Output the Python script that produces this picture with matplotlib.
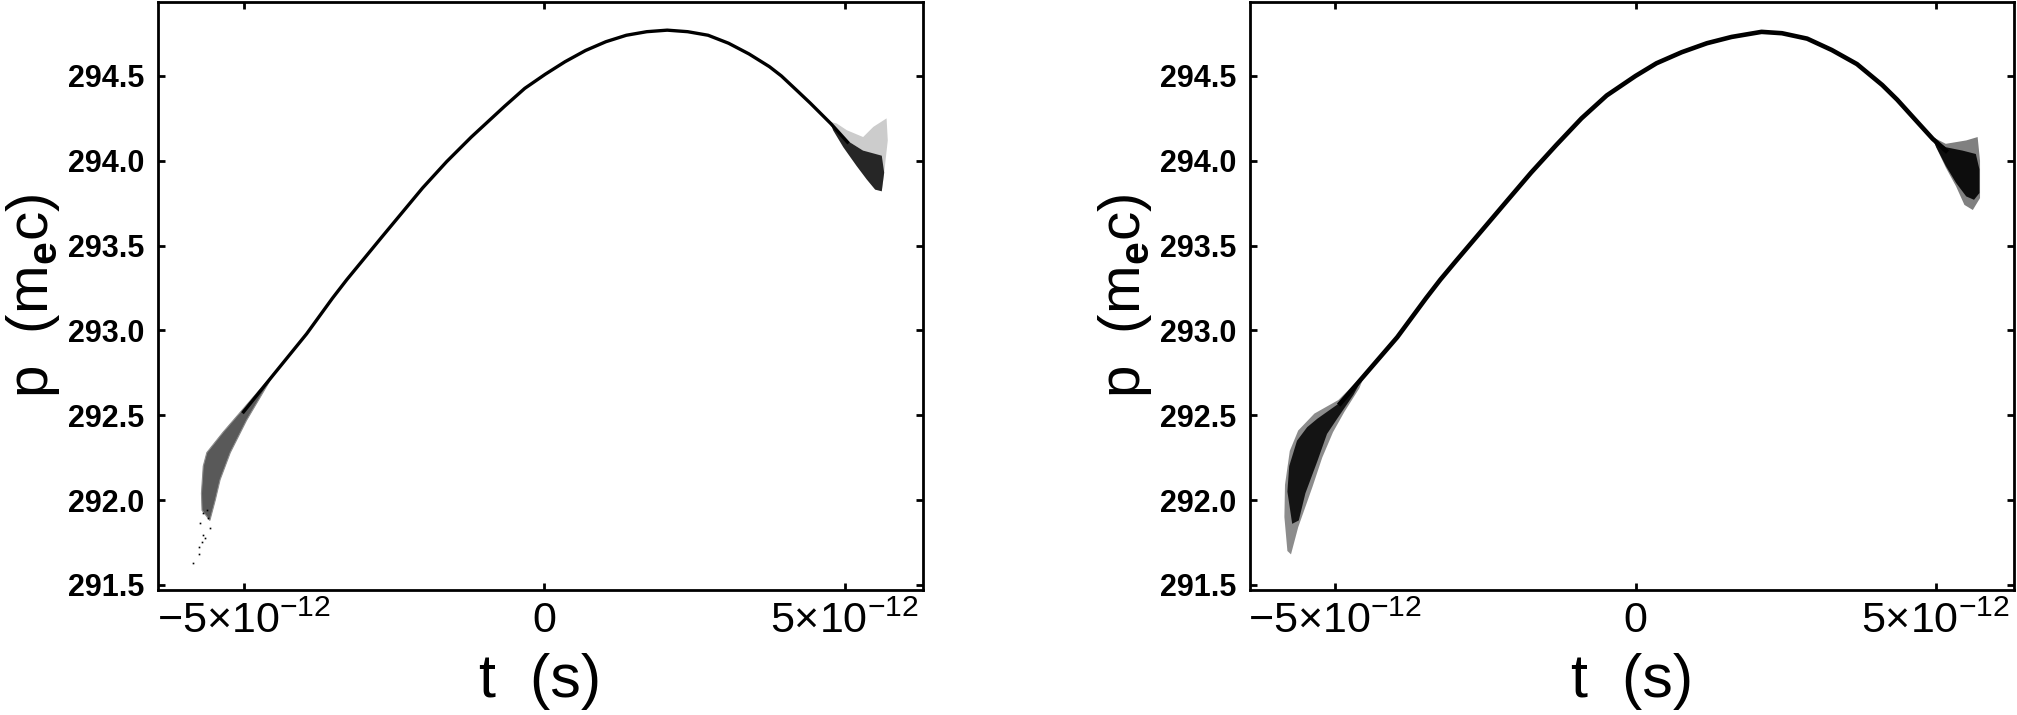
import matplotlib
matplotlib.use("Agg")
import matplotlib.pyplot as plt

plt.rcParams['font.family'] = ['Liberation Sans', 'DejaVu Sans']
plt.rcParams['mathtext.fontset'] = 'custom'
plt.rcParams['mathtext.rm'] = 'Liberation Sans'
plt.rcParams['mathtext.it'] = 'Liberation Sans:italic'
plt.rcParams['mathtext.bf'] = 'Liberation Sans:bold'

PS = 1e-12  # t values below are in ps

# ---- left panel ----
left_line_t = [-5.00, -4.50, -3.95, -3.52, -3.28, -2.70, -2.02, -1.62, -1.21, -0.66, -0.32, 0.02,
               0.35, 0.69, 1.03, 1.37, 1.71, 2.05, 2.39, 2.73, 3.07, 3.41, 3.75, 3.95, 4.23,
               4.43, 4.77, 5.05]
left_line_p = [292.52, 292.74, 292.98, 293.19, 293.30, 293.55, 293.84, 293.995, 294.14, 294.32, 294.427, 294.51,
               294.584, 294.65, 294.702, 294.74, 294.761, 294.77, 294.761, 294.74, 294.693, 294.63, 294.555, 294.50, 294.407,
               294.34, 294.22, 294.11]

# bunch head (low t), outline of the particle cloud
left_head_t = [-4.50, -5.06, -5.34, -5.61, -5.67, -5.70, -5.69, -5.56, -5.47, -5.39, -5.22, -4.95, -4.60]
left_head_p = [292.745, 292.515, 292.40, 292.28, 292.20, 292.04, 291.94, 291.88, 292.00, 292.12, 292.28, 292.47, 292.68]
# loose particles under the head
left_dots_t = [-5.835, -5.735, -5.735, -5.696, -5.669, -5.641, -5.557, -5.585, -5.724, -5.68, -5.613]
left_dots_p = [291.628, 291.683, 291.726, 291.755, 291.795, 291.775, 291.834, 291.893, 291.864, 291.923, 291.942]

# bunch tail (high t)
left_tail_core_t = [4.76, 5.04, 5.31, 5.62, 5.66, 5.62, 5.51, 5.37, 5.20, 4.98, 4.81]
left_tail_core_p = [294.23, 294.12, 294.06, 294.03, 293.93, 293.82, 293.83, 293.89, 293.97, 294.08, 294.18]
left_tail_halo_t = [4.76, 4.87, 5.04, 5.31, 5.48, 5.70, 5.72, 5.66, 5.62, 5.31, 5.04]
left_tail_halo_p = [294.23, 294.22, 294.18, 294.14, 294.20, 294.25, 294.12, 293.93, 293.82, 294.06, 294.12]

# ---- right panel ----
right_line_t = [-4.92, -4.53, -3.97, -3.49, -3.25, -2.99, -2.57, -2.15, -1.74, -1.32, -0.90, -0.48,
                0.00, 0.35, 0.77, 1.19, 1.60, 2.10, 2.44, 2.86, 3.27, 3.69, 4.11, 4.36, 4.69, 4.95, 5.17]
right_line_p = [292.57, 292.73, 292.96, 293.19, 293.30, 293.41, 293.585, 293.76, 293.93, 294.093, 294.25, 294.385,
                294.50, 294.575, 294.64, 294.693, 294.73, 294.76, 294.752, 294.72, 294.653, 294.57, 294.447, 294.36, 294.231, 294.13, 294.06]

right_head_core_t = [-4.53, -4.92, -5.30, -5.47, -5.64, -5.77, -5.80, -5.72, -5.61, -5.50, -5.30, -5.14, -4.97, -4.70]
right_head_core_p = [292.73, 292.575, 292.48, 292.43, 292.35, 292.20, 292.05, 291.86, 291.88, 292.04, 292.23, 292.39, 292.48, 292.62]
right_head_halo_t = [-4.50, -4.95, -5.35, -5.62, -5.76, -5.84, -5.85, -5.80, -5.74, -5.62, -5.50, -5.38, -5.22, -5.04, -4.85, -4.60]
right_head_halo_p = [292.75, 292.59, 292.51, 292.41, 292.29, 292.09, 291.90, 291.70, 291.68, 291.84, 291.96, 292.08, 292.25, 292.40, 292.52, 292.66]

right_tail_core_t = [4.95, 5.17, 5.45, 5.67, 5.73, 5.73, 5.64, 5.51, 5.34, 5.17, 5.01]
right_tail_core_p = [294.13, 294.08, 294.06, 294.04, 293.95, 293.81, 293.77, 293.79, 293.87, 293.97, 294.08]
right_tail_halo_t = [4.95, 5.17, 5.51, 5.70, 5.74, 5.74, 5.62, 5.48, 5.34, 5.17, 5.01]
right_tail_halo_p = [294.14, 294.10, 294.12, 294.14, 294.00, 293.78, 293.71, 293.74, 293.85, 293.96, 294.08]

x_ticks = [-5, 0, 5]
x_ticklabels = [r'$\mathregular{-5×10^{-12}}$', '0', r'$\mathregular{5×10^{-12}}$']
y_ticks = [291.5, 292.0, 292.5, 293.0, 293.5, 294.0, 294.5]
y_ticklabels = ['291.5', '292.0', '292.5', '293.0', '293.5', '294.0', '294.5']


def sec(ts):
    return [v * PS for v in ts]


def style_axes(ax):
    ax.set_xlim(-6.423 * PS, 6.306 * PS)
    ax.set_ylim(291.47, 294.936)
    ax.set_xticks(sec(x_ticks))
    ax.set_xticklabels(x_ticklabels, fontsize=31)
    ax.set_yticks(y_ticks)
    ax.set_yticklabels(y_ticklabels, fontsize=22, fontweight='bold')
    ax.tick_params(direction='in', length=5, width=2, top=True, right=True)
    ax.tick_params(axis='x', pad=8)
    ax.tick_params(axis='y', pad=10)
    for s in ax.spines.values():
        s.set_linewidth(2)
    ax.set_xlabel('t  (s)', fontsize=44)
    ax.set_ylabel(r'p  (m$_\mathbf{e}$c)', fontsize=42)
    ax.xaxis.set_label_coords(0.5, -0.155)
    ax.yaxis.set_label_coords(-0.163, 0.5)
    ax.xaxis.label.set_va('center')
    ax.yaxis.label.set_va('center')


fig = plt.figure(figsize=(20.17, 7.15), dpi=100)
ax1 = fig.add_axes([158 / 2017, 1 - 590 / 715, 765 / 2017, 588 / 715])
ax2 = fig.add_axes([1250 / 2017, 1 - 590 / 715, 764 / 2017, 588 / 715])

# left panel
ax1.fill(sec(left_head_t), left_head_p, color='0.35', lw=0.8, ec='0.55', zorder=2)
ax1.fill(sec(left_tail_halo_t), left_tail_halo_p, color='0.8', lw=0, zorder=1)
ax1.fill(sec(left_tail_core_t), left_tail_core_p, color='0.15', lw=0, zorder=2)
ax1.plot(sec(left_line_t), left_line_p, color='black', lw=2.4, zorder=3,
         solid_joinstyle='round')
ax1.plot(sec(left_dots_t), left_dots_p, 's', color='black', ms=1.2, mew=0, zorder=3)
style_axes(ax1)

# right panel
ax2.fill(sec(right_head_halo_t), right_head_halo_p, color='0.55', lw=0, zorder=1)
ax2.fill(sec(right_head_core_t), right_head_core_p, color='0.08', lw=0, zorder=2)
ax2.fill(sec(right_tail_halo_t), right_tail_halo_p, color='0.5', lw=0, zorder=1)
ax2.fill(sec(right_tail_core_t), right_tail_core_p, color='0.05', lw=0, zorder=2)
ax2.plot(sec(right_line_t), right_line_p, color='black', lw=3.3, zorder=3,
         solid_joinstyle='round')
style_axes(ax2)

fig.savefig('out.png', dpi=100)
